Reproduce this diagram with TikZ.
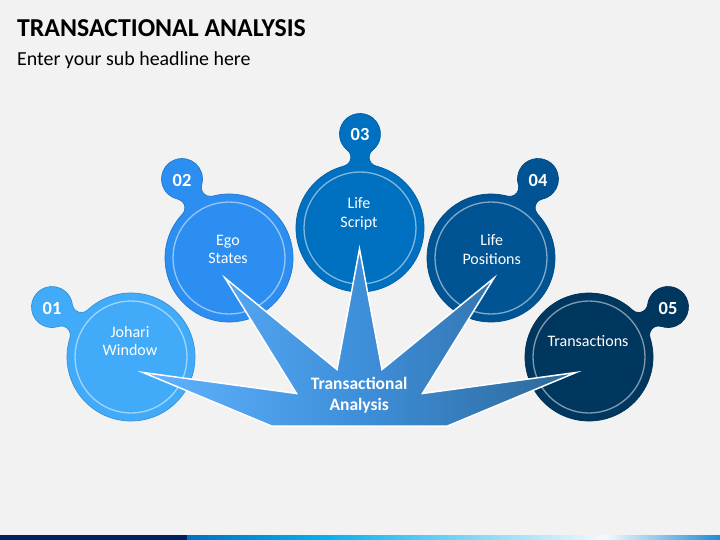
\documentclass[tikz,border=0pt]{standalone}
\usepackage{fontspec}
\setmainfont{Carlito}
\usetikzlibrary{calc}
\definecolor{bgc}{HTML}{F2F2F2}
\definecolor{cA}{HTML}{41ABF9}
\definecolor{cB}{HTML}{2B8EF0}
\definecolor{cC}{HTML}{0070C0}
\definecolor{cD}{HTML}{005494}
\definecolor{cE}{HTML}{00375F}
\definecolor{navybar}{HTML}{002060}
\definecolor{sL}{HTML}{62B3FF}
\definecolor{sM}{HTML}{3E8FDA}
\definecolor{sR}{HTML}{2D6898}
% #1 Ax #2 Ay #3 R #4 Bx #5 By #6 r #7 fillet #8 style
\newcommand\tablob[8]{%
  \pgfmathsetmacro\tdx{(#4-(#1))/10}%
  \pgfmathsetmacro\tdy{(#5-(#2))/10}%
  \pgfmathsetmacro\td{veclen(\tdx,\tdy)}%
  \pgfmathsetmacro\tth{atan2(\tdy,\tdx)}%
  \pgfmathsetmacro\ta{(#3+#7)/10}%
  \pgfmathsetmacro\tb{(#6+#7)/10}%
  \pgfmathsetmacro\tal{acos((\ta*\ta+\td*\td-\tb*\tb)/(2*\ta*\td))}%
  \pgfmathsetmacro\tbe{acos((\tb*\tb+\td*\td-\ta*\ta)/(2*\tb*\td))}%
  \pgfmathsetmacro\tsa{\tth+\tal}%
  \path[#8] (#1,#2) ++(\tsa:#3)
    arc[start angle=\tth+\tal, end angle=\tth-\tal+360, radius=#3]
    arc[start angle=\tth-\tal+180, end angle=\tth+\tbe, radius=#7]
    arc[start angle=\tth+180+\tbe, end angle=\tth+540-\tbe, radius=#6]
    arc[start angle=\tth-\tbe, end angle=\tth+\tal-180, radius=#7] -- cycle;
}
\tikzset{
  ring/.style={draw=white, draw opacity=0.5, line width=1.3},
  ctext/.style={text=white, inner sep=0, anchor=base, font=\fontsize{16}{18}\selectfont},
  btext/.style={text=white, inner sep=0, anchor=center, font=\bfseries\fontsize{18.5}{20}\selectfont},
  stext/.style={text=white, inner sep=0, anchor=base, font=\bfseries\fontsize{17.5}{20}\selectfont},
}
\begin{document}
\begin{tikzpicture}[x=1pt,y=-1pt]
\useasboundingbox (0,0) rectangle (720,540);
\fill[bgc] (0,0) rectangle (720,540);
% title
\node[anchor=base west, inner sep=0, font=\bfseries\fontsize{25.8}{29}\selectfont] (title) at (17,36.5) {TRANSACTIONAL ANALYSIS};
\node[anchor=base west, inner sep=0, font=\fontsize{19.9}{23}\selectfont] (sub) at (17,65.5) {Enter your sub headline here};
% bottom bar
\fill[navybar] (0,535) rectangle (187,540);
\shade[left color=cC, right color={rgb,255:red,0;green,176;blue,240}] (187,535) rectangle (321.5,540);
\shade[left color={rgb,255:red,0;green,176;blue,240}, right color={rgb,255:red,244;green,249;blue,253}] (321,535) rectangle (605.5,540);
\shade[left color={rgb,255:red,244;green,249;blue,253}, right color={rgb,255:red,30;green,140;blue,216}] (605,535) rectangle (720,540);
% blobs
\tablob{131}{357}{64}{52}{307}{20.5}{9}{fill=cA, draw=cA!85!black, line width=0.7}
\tablob{229}{258}{64}{182}{179}{20.5}{9}{fill=cB, draw=cB!85!black, line width=0.7}
\tablob{360}{228}{64}{360}{134}{20.5}{9}{fill=cC, draw=cC!85!black, line width=0.7}
\tablob{491}{258}{64}{538}{179}{20.5}{9}{fill=cD, draw=cD!85!black, line width=0.7}
\tablob{589}{357}{64}{668}{307}{20.5}{9}{fill=cE, draw=cE!85!black, line width=0.7}
% rings
\draw[ring] (131,357) circle[radius=56];
\draw[ring] (229,258) circle[radius=56];
\draw[ring] (360,228) circle[radius=56];
\draw[ring] (491,258) circle[radius=56];
\draw[ring] (589,357) circle[radius=56];
% badge numbers
\node[btext] (n1) at (52,308) {01};
\node[btext] (n2) at (182,180) {02};
\node[btext] (n3) at (360,134) {03};
\node[btext] (n4) at (538,180) {04};
\node[btext] (n5) at (668,308) {05};
% circle texts
\node[ctext] (t1a) at (130,337.3) {Johari};
\node[ctext] (t1b) at (130,355.7) {Window};
\node[ctext] (t2a) at (228,245) {Ego};
\node[ctext] (t2b) at (228,263.3) {States};
\node[ctext] (t3a) at (359,209) {Life};
\node[ctext] (t3b) at (359,227.3) {Script};
\node[ctext] (t4a) at (491.7,245.7) {Life};
\node[ctext] (t4b) at (491.7,264) {Positions};
\node[ctext] (t5a) at (588,346.7) {Transactions};
% star
\path[draw=white, line width=1.5, line join=miter, left color=sL, right color=sR, middle color=sM]
  (271.5,426) -- (143,372.5) -- (296.5,393.5) -- (225,278) -- (337,369.5) -- (359.5,249)
  -- (382,369.5) -- (494,278) -- (422.5,393.5) -- (576,372.5) -- (447.5,426) -- cycle;
\node[stext] (ca) at (359.2,389) {Transactional};
\node[stext] (cb) at (359.2,410) {Analysis};
\end{tikzpicture}
\end{document}
